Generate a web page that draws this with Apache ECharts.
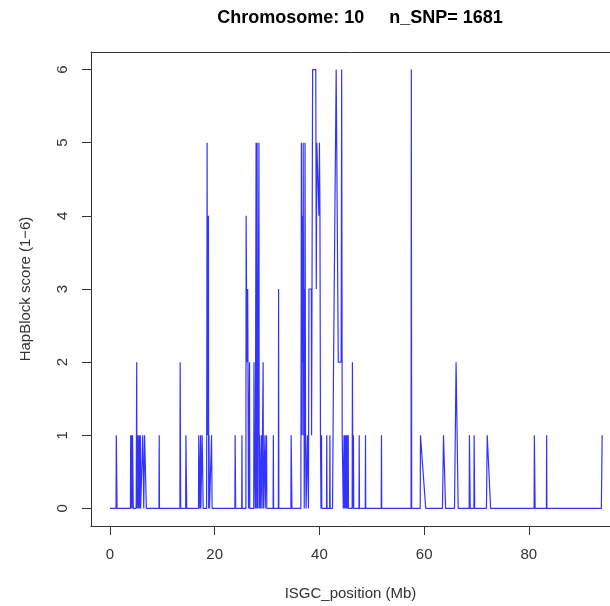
<!DOCTYPE html>
<html>
<head>
<meta charset="utf-8">
<script src="https://cdn.jsdelivr.net/npm/echarts@6/dist/echarts.min.js"></script>
<style>
html,body{margin:0;padding:0;background:#fff;}
#chart{width:610px;height:606px;}
</style>
</head>
<body>
<div id="chart"></div>
<script>
// Data (SNP position in Mb, HapBlock score)
const positionsMb = [
  0, 1.15, 1.2, 1.3, 1.35,
  3.9, 3.95, 4.0, 4.1, 4.2, 4.3, 4.4, 4.45,
  5.0, 5.1, 5.15, 5.3, 5.4, 5.5, 5.55, 5.6, 5.8, 5.85,
  6.2, 6.25, 6.4, 6.45, 6.6, 6.9, 6.95,
  9.35, 9.4, 9.45,
  13.35, 13.4, 13.5,
  14.45, 14.5, 14.6, 14.65,
  16.9, 16.95, 17.1, 17.15, 17.3, 17.35, 17.6, 17.75, 17.8,
  18.45, 18.55, 18.6, 18.7, 18.8, 18.85, 18.9, 19.0, 19.35, 19.4, 19.5,
  23.85, 23.9, 24.0,
  25.15, 25.2, 25.25,
  25.95, 26.0, 26.1, 26.15, 26.3, 26.4, 26.45, 26.6, 26.65, 26.7,
  27.45, 27.5, 27.55, 27.7, 27.75, 27.85, 27.9, 27.95, 28.1, 28.15, 28.2, 28.4, 28.45, 28.5, 28.6, 28.7,
  28.9, 28.95, 29.0, 29.2, 29.25, 29.3, 29.55, 29.6, 29.65, 29.85, 29.9, 29.95,
  31.15, 31.2, 31.25,
  32.15, 32.2, 32.25,
  34.55, 34.6, 34.7, 34.75,
  36.45, 36.5, 36.55, 36.6, 36.7, 36.75, 36.85, 36.9, 37.0, 37.05, 37.1, 37.2, 37.25, 37.35, 37.45,
  37.6, 37.7, 37.9, 38.0, 38.45, 38.5, 38.7, 39.3, 39.4, 39.5, 39.8, 39.9, 40.0, 40.1, 40.2, 40.3,
  40.35, 40.4, 40.45, 41.35, 41.4, 41.45, 41.95, 42.0, 42.05,
  42.5, 42.7, 42.95, 43.2, 43.5, 43.6, 44.15, 44.25, 44.35,
  44.5, 44.55, 44.7, 44.75, 44.9, 44.95, 45.1, 45.15, 45.3, 45.35, 45.5, 45.55,
  46.25, 46.3, 46.4, 46.5, 46.55,
  47.55, 47.6, 47.65,
  48.75, 48.8, 48.85,
  51.8, 51.85, 51.9,
  57.5, 57.55, 57.58, 57.62,
  59.25, 59.3, 60.3,
  63.5, 63.7, 63.9, 64.1,
  65.8, 66.1, 66.4, 66.5,
  68.6, 68.65, 68.75, 68.8,
  69.5, 69.55, 69.65,
  71.9, 72.05, 72.4, 72.7,
  81.0, 81.05, 81.15, 81.2,
  83.35, 83.4, 83.45,
  93.85, 94.0
];
const scores = [
  0, 0, 1, 1, 0,
  0, 1, 0, 1, 0, 1, 1, 0,
  0, 2, 0, 1, 0, 0, 1, 0, 1, 0,
  0, 1, 1, 0, 1, 1, 0,
  0, 1, 0,
  0, 2, 0,
  0, 1, 1, 0,
  0, 1, 1, 0, 1, 0, 1, 1, 0,
  0, 5, 2, 1, 4, 0, 1, 0, 0, 1, 0,
  0, 1, 0,
  0, 1, 0,
  0, 4, 4, 2, 3, 3, 0, 0, 2, 0,
  0, 2, 1, 1, 0, 0, 5, 0, 5, 1, 0, 4, 5, 0, 1, 0,
  0, 1, 0, 0, 2, 0, 0, 1, 0, 0, 1, 0,
  0, 1, 0,
  0, 3, 0,
  0, 1, 1, 0,
  0, 2, 5, 3, 1, 4, 2, 5, 1, 3, 0, 2, 5, 1, 0,
  0, 1, 0, 3, 3, 1, 6, 6, 3, 5, 5, 4, 5, 4, 1, 0,
  0, 1, 0, 0, 1, 0, 0, 1, 0,
  0, 2, 2, 6, 6, 2, 2, 6, 1,
  1, 0, 1, 0, 1, 0, 1, 0, 1, 0, 1, 0,
  0, 2, 0, 1, 0,
  0, 1, 0,
  0, 1, 0,
  0, 1, 0,
  0, 6, 3.4, 0,
  0, 1, 0,
  0, 1, 1, 0,
  0, 2, 2, 0,
  0, 1, 1, 0,
  0, 1, 0,
  0, 1, 1, 0,
  0, 1, 1, 0,
  0, 1, 0,
  0, 1
];
const xTicks = [0, 20, 40, 60, 80];
const yTicks = [0, 1, 2, 3, 4, 5, 6];

const seriesData = positionsMb.map((x, i) => [x, scores[i]]);

const chart = echarts.init(document.getElementById('chart'), null, {renderer: 'canvas'});
const fontFam = '"Liberation Sans", Arial, Helvetica, sans-serif';
const axisCol = '#333';
chart.setOption({
  animation: false,
  backgroundColor: '#ffffff',
  title: {
    text: 'Chromosome: 10     n_SNP= 1681',
    left: 355, top: 4, textAlign: 'center',
    textStyle: {fontFamily: fontFam, fontSize: 18, fontWeight: 'bold', color: '#000'}
  },
  grid: {
    left: 91, top: 52, right: 0, bottom: 76,
    show: false, containLabel: false
  },
  xAxis: [{
    type: 'value', min: -3.63, max: 95.5, position: 'bottom',
    splitLine: {show: false},
    axisLine: {show: true, onZero: false, lineStyle: {color: axisCol, width: 1}},
    axisTick: {show: true, inside: false, length: 9, customValues: xTicks, lineStyle: {color: axisCol}},
    axisLabel: {show: true, customValues: xTicks, margin: 21, color: axisCol, fontSize: 15, fontFamily: fontFam},
    name: 'ISGC_position (Mb)', nameLocation: 'middle', nameGap: 60,
    nameTextStyle: {color: axisCol, fontSize: 15, fontFamily: fontFam}
  }, {
    type: 'value', min: -3.63, max: 95.5, position: 'top',
    splitLine: {show: false},
    axisLine: {show: true, onZero: false, lineStyle: {color: axisCol, width: 1}},
    axisTick: {show: false}, axisLabel: {show: false}
  }],
  yAxis: {
    type: 'value', min: -0.24, max: 6.24,
    splitLine: {show: false},
    axisLine: {show: true, onZero: false, lineStyle: {color: axisCol, width: 1}},
    axisTick: {show: true, inside: false, length: 9, customValues: yTicks, lineStyle: {color: axisCol}},
    axisLabel: {show: true, customValues: yTicks, rotate: 90, margin: 21, color: axisCol, fontSize: 15, fontFamily: fontFam},
    name: 'HapBlock score (1\u22126)', nameLocation: 'middle', nameGap: 58, nameRotate: 90,
    nameTextStyle: {color: axisCol, fontSize: 15, fontFamily: fontFam}
  },
  series: [{
    type: 'line', data: seriesData, showSymbol: false, symbol: 'none',
    xAxisIndex: 0, yAxisIndex: 0,
    lineStyle: {color: '#0000ff', width: 1.2, opacity: 0.8},
    emphasis: {disabled: true}, silent: true, clip: true
  }]
});
</script>
</body>
</html>
